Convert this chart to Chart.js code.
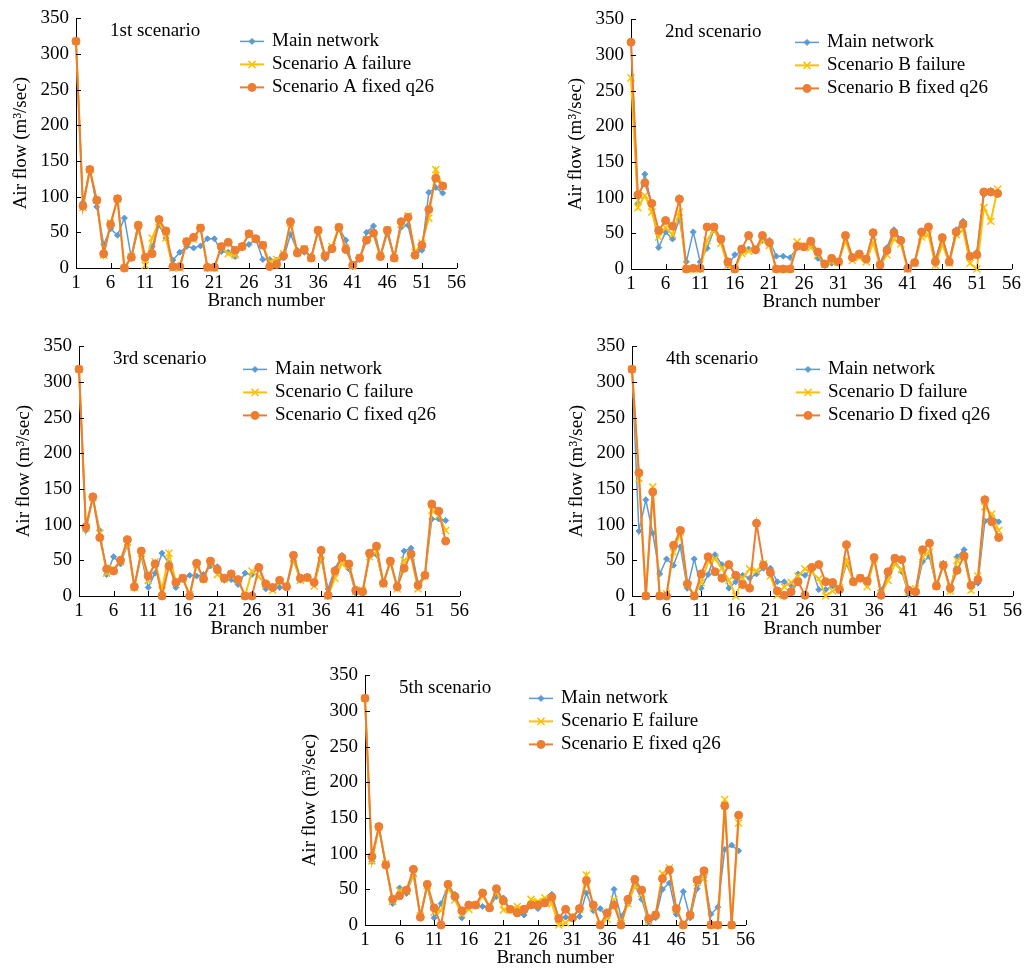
<!DOCTYPE html>
<html>
<head>
<meta charset="utf-8">
<script src="https://cdn.jsdelivr.net/npm/chart.js@4.4.0/dist/chart.umd.min.js"></script>
<style>
html, body { margin: 0; padding: 0; background: #fff; width: 1025px; height: 971px; overflow: hidden; position: relative; }
canvas { position: absolute; }
</style>
</head>
<body>
<canvas id="c1" width="470" height="320" style="left:0px;top:0px"></canvas>
<canvas id="c2" width="470" height="320" style="left:555px;top:1px"></canvas>
<canvas id="c3" width="470" height="320" style="left:3px;top:328px"></canvas>
<canvas id="c4" width="470" height="320" style="left:556px;top:328px"></canvas>
<canvas id="c5" width="470" height="320" style="left:289px;top:657px"></canvas>
<script>
// axis ticks
const xTicks = [1, 6, 11, 16, 21, 26, 31, 36, 41, 46, 51, 56];
const yTicks = [0, 50, 100, 150, 200, 250, 300, 350];

const titles = ['1st scenario', '2nd scenario', '3rd scenario', '4th scenario', '5th scenario'];
const letters = ['A', 'B', 'C', 'D', 'E'];

// 1st scenario
const main1 = [318,92,138,86,33,55,46,70,14,55,14,30,60,42,11,22,30,28,31,41,41,23,22,16,30,33,40,12,12,11,14,47,25,22,17,50,13,26,57,39,2,12,50,59,17,48,14,57,60,18,25,106,113,105];
const fail1 = [318,85,138,95,18,63,97,0,16,60,4,42,65,42,0,0,37,40,57,0,0,30,20,18,30,48,40,32,8,12,20,63,22,27,14,53,17,30,57,28,3,14,40,47,17,53,14,62,73,22,35,70,138,115];
const fixed1 = [318,87,138,95,20,61,97,0,15,60,15,20,68,52,2,2,37,43,56,1,1,30,36,25,30,48,41,32,2,5,17,65,21,26,14,53,17,27,57,26,4,14,39,49,16,53,14,65,71,18,32,82,126,115];

// 2nd scenario
const main2 = [318,92,133,90,30,52,42,70,10,52,10,29,55,38,5,20,25,28,25,40,40,18,18,16,30,32,36,15,5,8,10,44,18,20,15,48,8,30,55,42,2,10,50,56,14,44,12,55,67,16,24,104,110,105];
const fail2 = [268,86,103,80,45,58,48,80,0,0,0,40,55,36,5,0,22,25,28,40,33,0,0,0,38,33,30,20,7,10,10,40,12,16,10,37,5,20,42,35,0,8,45,48,5,35,8,48,55,8,0,86,67,112];
const fixed2 = [318,104,121,92,54,68,60,98,0,1,1,59,59,42,10,0,28,47,27,47,37,0,0,0,32,31,39,24,7,15,10,47,16,21,14,51,6,26,51,40,1,9,52,59,10,44,10,52,63,18,20,108,108,106];

// 3rd scenario
const main3 = [318,92,138,92,30,55,45,72,14,56,12,32,60,46,12,24,29,28,30,42,41,22,23,16,32,30,42,10,12,12,13,50,22,26,18,52,10,38,57,38,4,6,55,58,18,48,13,63,67,18,28,108,108,106];
const fail3 = [318,95,138,88,32,38,48,75,12,60,22,48,8,60,20,25,2,44,24,48,30,24,28,22,0,35,27,15,8,20,14,52,22,25,14,58,0,25,45,42,6,8,55,62,17,48,10,50,55,10,28,120,113,92];
const fixed3 = [318,97,139,82,38,35,50,79,13,63,28,45,0,42,19,25,0,46,24,49,37,25,31,23,0,0,40,17,12,22,13,57,25,26,19,64,1,35,54,45,8,6,60,70,18,49,13,39,59,15,29,129,119,77];

// 4th scenario
const main4 = [318,91,135,88,31,52,43,69,11,52,11,30,58,44,11,20,29,25,31,39,39,20,20,15,31,29,39,9,9,14,11,45,22,25,16,52,8,28,49,34,2,4,48,55,14,46,8,55,65,14,18,105,112,104];
const fail4 = [318,165,0,153,0,3,61,90,15,0,19,48,52,39,22,0,25,38,35,45,28,1,13,19,28,38,33,24,0,7,12,50,20,25,13,52,3,22,45,37,6,10,55,62,14,44,7,50,55,8,28,125,115,92];
const fixed4 = [318,173,0,146,0,0,71,92,17,0,31,55,34,25,44,29,16,11,102,43,33,7,1,6,20,1,40,44,20,19,9,72,20,25,21,54,1,34,53,51,8,6,65,74,14,43,11,36,56,15,23,135,104,82];

// 5th scenario
const main5 = [318,89,137,84,30,52,44,70,10,55,10,30,55,43,10,25,27,26,26,40,38,22,20,14,28,23,35,43,10,11,10,12,45,20,23,10,50,12,30,55,36,3,10,50,59,15,47,10,51,67,15,25,106,112,104];
const fail5 = [318,90,137,86,33,48,47,72,13,55,18,20,52,35,15,22,28,40,27,48,21,21,26,22,36,33,38,30,0,3,12,22,70,25,1,8,35,2,30,55,44,5,14,72,80,22,0,13,60,66,0,0,176,0,143];
const fixed5 = [318,96,138,84,36,41,49,78,11,57,24,0,57,40,20,28,28,45,24,51,34,22,17,22,28,28,31,39,9,22,10,23,62,28,0,17,28,0,36,64,49,9,14,65,77,23,0,14,63,76,0,0,167,0,154];

const panels = [
  [main1, fail1, fixed1],
  [main2, fail2, fixed2],
  [main3, fail3, fixed3],
  [main4, fail4, fixed4],
  [main5, fail5, fixed5]
];

const BLUE = '#5B9BD5';
const YELLOW = '#FFC000';
const ORANGE = '#ED7D31';
const FONT = { family: '"Liberation Serif", "Times New Roman", serif', size: 19 };

function series(label, values, color, style, radius, width, pbw, order) {
  return {
    label: label,
    data: values.map((v, i) => ({ x: i + 1, y: v })),
    borderColor: color,
    backgroundColor: color,
    pointBackgroundColor: color,
    pointBorderColor: color,
    pointStyle: style,
    pointRadius: radius,
    pointBorderWidth: pbw,
    borderWidth: width,
    tension: 0,
    order: order,
    clip: false
  };
}

// inward tick marks, scenario title and the legend inside the plot
const panelDecor = {
  id: 'panelDecor',
  afterDraw(chart, args, opts) {
    const ctx = chart.ctx;
    const area = chart.chartArea;
    const xs = chart.scales.x, ys = chart.scales.y;
    ctx.save();
    ctx.strokeStyle = '#000';
    ctx.lineWidth = 1;
    ctx.beginPath();
    xTicks.forEach(v => {
      const px = Math.round(xs.getPixelForValue(v)) + 0.5;
      ctx.moveTo(px, area.bottom);
      ctx.lineTo(px, area.bottom - 5);
    });
    yTicks.forEach(v => {
      const py = Math.round(ys.getPixelForValue(v)) + 0.5;
      ctx.moveTo(area.left, py);
      ctx.lineTo(area.left + 5, py);
    });
    ctx.stroke();

    ctx.font = FONT.size + 'px ' + FONT.family;
    ctx.fillStyle = '#000';
    ctx.textBaseline = 'middle';
    ctx.textAlign = 'left';
    ctx.fillText(opts.title, area.left + 34, area.top + 13);

    chart.data.datasets.forEach((ds, i) => {
      const y = area.top + 23 + i * 23;
      const x0 = area.left + 164;
      ctx.strokeStyle = ds.borderColor;
      ctx.lineWidth = ds.borderWidth;
      ctx.beginPath();
      ctx.moveTo(x0, y);
      ctx.lineTo(x0 + 24, y);
      ctx.stroke();
      ctx.fillStyle = ds.pointBackgroundColor;
      ctx.lineWidth = ds.pointBorderWidth;
      Chart.helpers.drawPoint(ctx, {
        pointStyle: ds.pointStyle, radius: ds.pointRadius, rotation: 0, borderWidth: ds.pointBorderWidth
      }, x0 + 12, y);
      ctx.fillStyle = '#000';
      ctx.fillText(ds.label, area.left + 196, y);
    });
    ctx.restore();
  }
};

panels.forEach((p, k) => {
  new Chart(document.getElementById('c' + (k + 1)), {
    type: 'line',
    data: {
      datasets: [
        series('Main network', p[0], BLUE, 'rectRot', 3, 1.5, 1, 3),
        series('Scenario ' + letters[k] + ' failure', p[1], YELLOW, 'crossRot', 5, 2, 1.5, 2),
        series('Scenario ' + letters[k] + ' fixed q26', p[2], ORANGE, 'circle', 4, 2, 1, 1)
      ]
    },
    options: {
      responsive: false,
      animation: false,
      devicePixelRatio: 1,
      layout: { padding: { top: 17, right: 13, left: 0, bottom: 0 } },
      plugins: {
        legend: { display: false },
        tooltip: { enabled: false },
        panelDecor: { title: titles[k] }
      },
      scales: {
        x: {
          type: 'linear',
          min: 1,
          max: 56,
          afterBuildTicks: s => { s.ticks = xTicks.map(v => ({ value: v })); },
          afterFit: s => { s.height = 52; },
          grid: { display: false, drawTicks: false, tickLength: 0 },
          border: { display: true, color: '#000', width: 1 },
          ticks: { color: '#000', font: FONT, padding: 4, maxRotation: 0, autoSkip: false },
          title: { display: true, text: 'Branch number', color: '#000', font: FONT, padding: { top: 0, bottom: 8 } }
        },
        y: {
          min: 0,
          max: 350,
          afterBuildTicks: s => { s.ticks = yTicks.map(v => ({ value: v })); },
          afterFit: s => { s.width = 76; },
          grid: { display: false, drawTicks: false, tickLength: 0 },
          border: { display: true, color: '#000', width: 1 },
          ticks: { color: '#000', font: FONT, padding: 7 },
          title: { display: true, text: 'Air flow (m³/sec)', color: '#000', font: FONT, padding: { top: 10, bottom: 0 } }
        }
      }
    },
    plugins: [panelDecor]
  });
});
</script>
</body>
</html>
